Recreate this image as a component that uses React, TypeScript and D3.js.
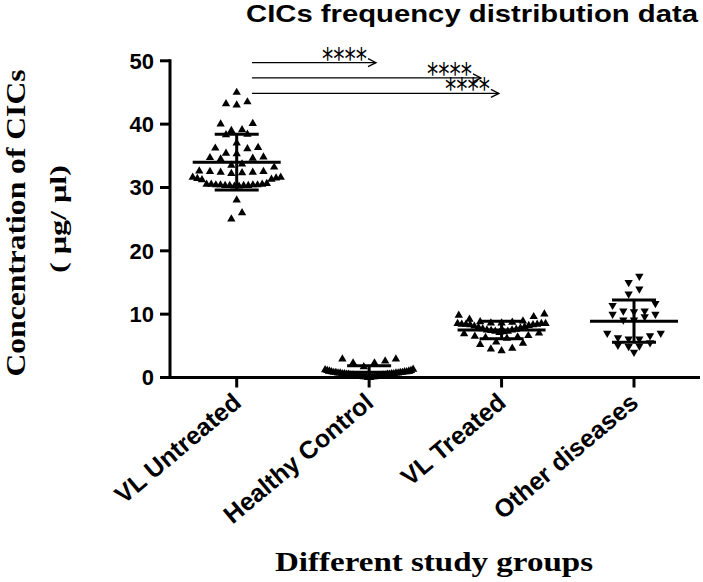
import React from "react";
import * as d3 from "d3";

const groups = ["VL Untreated", "Healthy Control", "VL Treated", "Other diseases"];

const vlUntreated = [45.0, 43.5, 43.0, 43.2, 40.1, 40.0, 39.1, 39.0, 38.4, 38.3, 37.0, 36.3, 36.1, 36.2, 35.4, 35.3,
  34.8, 34.6, 34.5, 34.7, 33.7, 33.5, 33.2, 32.6, 32.5, 32.5, 32.4, 32.4, 32.3, 32.2, 31.6, 31.6, 31.5, 31.4, 31.3, 31.2,
  30.6, 30.5, 30.5, 30.4, 30.4, 30.4, 30.3, 30.3, 30.3, 30.3, 30.2, 30.2, 30.4, 30.5, 28.0, 26.0, 25.0];
const healthyControl = [2.9, 2.9, 2.6, 2.3, 2.3, 1.7, 1.3, 1.2, 1.1, 1.1, 1.0, 1.0, 0.9, 0.9, 0.9, 0.8, 0.8, 0.8, 0.8,
  0.7, 0.7, 0.7, 0.7, 0.6, 0.6, 0.6, 0.6, 0.5, 0.5, 0.5, 0.5, 0.4, 0.4, 0.4, 0.4, 0.3, 0.3, 0.3, 0.3, 0.2, 0.2, 0.2,
  0.1, 0.1, 0.1, 0.1, 0.0, 0.0];
const vlTreated = [10.0, 9.8, 9.6, 9.2, 8.9, 8.8, 8.7, 8.6, 8.6, 8.5, 8.5, 8.5, 8.4, 8.4, 8.4, 8.3, 8.3, 8.2, 8.1, 8.0,
  7.9, 7.8, 7.7, 7.6, 7.5, 7.5, 7.4, 7.3, 7.3, 7.2, 7.1, 7.0, 6.9, 6.6, 6.5, 6.4, 6.3, 6.2, 5.6, 5.4, 5.2, 4.6, 4.5, 4.2];
const otherDiseases = [16.0, 15.0, 14.0, 13.2, 11.7, 11.4, 10.5, 10.5, 10.4, 10.0, 10.0, 9.6, 9.1, 9.1, 7.0, 7.0, 6.6,
  6.3, 6.1, 6.1, 5.5, 5.1, 5.0, 4.9, 4.0];

const groupValues = [vlUntreated, healthyControl, vlTreated, otherDiseases];
const groupMeans = [34.0, 0.82, 7.5, 8.9];
const groupSDs = [4.4, 1.04, 1.4, 3.35];
const markerDown = [false, false, false, true];

const yTicks = [0, 10, 20, 30, 40, 50];

// significance comparisons (x in category-index units, y in data units)
const compStart = [0.115, 0.115, 0.115];
const compEnd = [1.052, 1.845, 1.98];
const compLevel = [49.7, 47.3, 44.85];
const compLabel = ["****", "****", "****"];

const W = 703;
const H = 582;

const sans = "'Liberation Sans', Arial, Helvetica, sans-serif";
const serif = "'Liberation Serif', 'Times New Roman', Times, serif";

function layoutRows(values: number[], y: (v: number) => number, tol: number, spacing: number, halfW: number) {
  const sorted = [...values].sort((a, b) => b - a);
  const rows: number[][] = [];
  let cur: number[] = [];
  for (const v of sorted) {
    if (cur.length && y(v) - y(cur[0]) > tol) {
      rows.push(cur);
      cur = [];
    }
    cur.push(v);
  }
  if (cur.length) rows.push(cur);
  const out: { v: number; dx: number }[] = [];
  for (const row of rows) {
    const n = row.length;
    const s = n > 1 ? Math.min(spacing, (2 * halfW) / (n - 1)) : 0;
    const asc = [...row].sort((a, b) => a - b);
    const slots = d3
      .range(n)
      .map((i) => (i - (n - 1) / 2) * s)
      .sort((a, b) => Math.abs(a) - Math.abs(b) || a - b);
    asc.forEach((v, i) => out.push({ v, dx: slots[i] }));
  }
  return out;
}

export default function App() {
  const y = d3.scaleLinear().domain([0, 50]).range([377.5, 60.8]);
  const xi = d3.scaleLinear().domain([0, 3]).range([236.7, 634]);
  const axisX = 170;
  const axisRight = 700;
  const tri = d3.symbol().type(d3.symbolTriangle).size(30)() as string;

  return (
    <div style={{ position: "absolute", left: 0, top: 0 }}>
      <svg width={W} height={H} style={{ display: "block", background: "#fff" }}>
        <rect x={0} y={0} width={W} height={H} fill="#fff" />
        {/* title */}
        <text x={246} y={22} fontFamily={sans} fontWeight="bold" fontSize={24} textLength={452}
          lengthAdjust="spacingAndGlyphs" fill="#000">CICs frequency distribution data</text>

        {/* points */}
        {groupValues.map((vals, gi) => {
          const pts = layoutRows(vals, y, 9, 10.7, 44);
          return (
            <g key={"g" + gi}>
              {pts.map((p, i) => (
                <path key={i} d={tri}
                  transform={`translate(${xi(gi) + p.dx},${y(p.v)})${markerDown[gi] ? " rotate(180)" : ""}`}
                  fill="#000" />
              ))}
            </g>
          );
        })}

        {/* mean and SD */}
        {groupMeans.map((m, gi) => {
          const cx = xi(gi);
          const lo = Math.max(0, m - groupSDs[gi]);
          const hi = m + groupSDs[gi];
          return (
            <g key={"m" + gi} stroke="#000" strokeWidth={3}>
              <line x1={cx - 44} x2={cx + 44} y1={y(m)} y2={y(m)} />
              <line x1={cx} x2={cx} y1={y(lo)} y2={y(hi)} />
              <line x1={cx - 22} x2={cx + 22} y1={y(hi)} y2={y(hi)} />
              {m - groupSDs[gi] > 0 && <line x1={cx - 22} x2={cx + 22} y1={y(lo)} y2={y(lo)} />}
            </g>
          );
        })}

        {/* comparisons */}
        {compLevel.map((lv, i) => {
          const x1 = xi(compStart[i]);
          const x2 = xi(compEnd[i]);
          const yy = y(lv);
          return (
            <g key={"c" + i}>
              <line x1={x1} x2={x2} y1={yy} y2={yy} stroke="#000" strokeWidth={1.3} />
              <path d={`M${x2 - 8},${yy - 4} L${x2},${yy} L${x2 - 8},${yy + 4}`} fill="none" stroke="#000" strokeWidth={1.3} />
              <text x={x2 - 9} y={yy + 6} textAnchor="end" fontFamily="'DejaVu Sans', sans-serif" fontSize={30}
                textLength={45} lengthAdjust="spacingAndGlyphs" fill="#000">{compLabel[i]}</text>
            </g>
          );
        })}

        {/* y axis */}
        <line x1={axisX} x2={axisX} y1={y(50) - 1.5} y2={y(0) + 1.5} stroke="#000" strokeWidth={3} />
        {yTicks.map((t) => (
          <g key={"yt" + t}>
            <line x1={axisX - 10} x2={axisX} y1={y(t)} y2={y(t)} stroke="#000" strokeWidth={3} />
            <text x={154} y={y(t)} dy="0.36em" textAnchor="end" fontFamily={sans} fontWeight="bold" fontSize={22}
              fill="#000">{t}</text>
          </g>
        ))}

        {/* x axis */}
        <line x1={axisX - 1.5} x2={axisRight} y1={y(0)} y2={y(0)} stroke="#000" strokeWidth={3} />
        {groups.map((g, gi) => (
          <g key={"xt" + gi}>
            <line x1={xi(gi)} x2={xi(gi)} y1={y(0)} y2={y(0) + 10} stroke="#000" strokeWidth={3} />
            <text transform={`translate(${xi(gi) + 6},${405}) rotate(-40)`} textAnchor="end" fontFamily={sans}
              fontWeight="bold" fontSize={25} fill="#000">{g}</text>
          </g>
        ))}

        {/* axis titles */}
        <text transform="translate(25,223) rotate(-90)" textAnchor="middle" fontFamily={serif} fontWeight="bold"
          fontSize={27} textLength={307} lengthAdjust="spacingAndGlyphs" fill="#000">Concentration of CICs</text>
        <text transform="translate(66,219) rotate(-90)" textAnchor="middle" fontFamily={serif} fontWeight="bold"
          fontSize={24} textLength={108} lengthAdjust="spacingAndGlyphs" fill="#000">( μg/ μl)</text>
        <text x={434} y={571} textAnchor="middle" fontFamily={serif} fontWeight="bold" fontSize={28}
          textLength={318} lengthAdjust="spacingAndGlyphs" fill="#000">Different study groups</text>
      </svg>
    </div>
  );
}
